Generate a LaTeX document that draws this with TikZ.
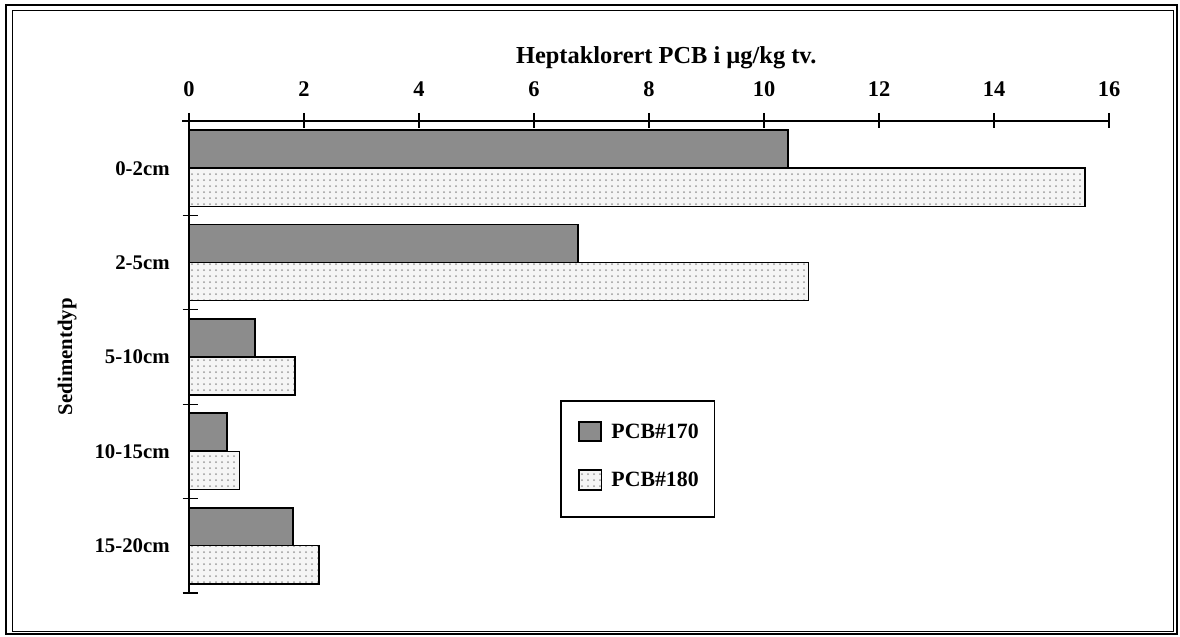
\documentclass[tikz,border=0pt]{standalone}
\usepackage{fontspec}
\setmainfont{Liberation Serif}
\usetikzlibrary{patterns}
\tikzset{
	lbl/.style={font=\bfseries\fontsize{10.4}{12}\selectfont, inner sep=0pt},
	darkbar/.style={draw=black, line width=0.9pt, fill=black!45},
	lightbar/.style={draw=black, line width=0.7pt, preaction={fill=black!4}, pattern=dots, pattern color=black!40}
}

\begin{document}
\begin{tikzpicture}[x=28.75pt, y=28.75pt]
			%%%%% START %%%%%
			\useasboundingbox (-3.287, 2.104) rectangle (17.235, -8.957);
			
			\draw[line width=1.1pt] (-3.183, 2.017) rectangle (17.183, -8.922);
			\draw[line width=0.5pt] (-3.078, 1.930) rectangle (17.113, -8.870);
			
			\node[lbl, font=\bfseries\fontsize{12.2}{14}\selectfont] (title) at (8.30, 1.10) {Heptaklorert PCB i µg/kg tv.};
			
			\draw[line width=0.75pt] (-0.12, 0) -- (16, 0);
			\draw[line width=0.75pt] (0, 0.14) -- (0, -8.209);
			
			\draw[line width=0.6pt] (2, 0.14) -- (2, -0.12);
			\draw[line width=0.6pt] (4, 0.14) -- (4, -0.12);
			\draw[line width=0.6pt] (6, 0.14) -- (6, -0.12);
			\draw[line width=0.6pt] (8, 0.14) -- (8, -0.12);
			\draw[line width=0.6pt] (10, 0.14) -- (10, -0.12);
			\draw[line width=0.6pt] (12, 0.14) -- (12, -0.12);
			\draw[line width=0.6pt] (14, 0.14) -- (14, -0.12);
			\draw[line width=0.6pt] (16, 0.14) -- (16, -0.12);
			
			\node[lbl, font=\bfseries\fontsize{11.2}{13}\selectfont] (t0) at (0, 0.557) {0};
			\node[lbl, font=\bfseries\fontsize{11.2}{13}\selectfont] (t2) at (2, 0.557) {2};
			\node[lbl, font=\bfseries\fontsize{11.2}{13}\selectfont] (t4) at (4, 0.557) {4};
			\node[lbl, font=\bfseries\fontsize{11.2}{13}\selectfont] (t6) at (6, 0.557) {6};
			\node[lbl, font=\bfseries\fontsize{11.2}{13}\selectfont] (t8) at (8, 0.557) {8};
			\node[lbl, font=\bfseries\fontsize{11.2}{13}\selectfont] (t10) at (10, 0.557) {10};
			\node[lbl, font=\bfseries\fontsize{11.2}{13}\selectfont] (t12) at (12, 0.557) {12};
			\node[lbl, font=\bfseries\fontsize{11.2}{13}\selectfont] (t14) at (14, 0.557) {14};
			\node[lbl, font=\bfseries\fontsize{11.2}{13}\selectfont] (t16) at (16, 0.557) {16};
			
			\draw[line width=0.6pt] (-0.11, -1.642) -- (0.15, -1.642);
			\draw[line width=0.6pt] (-0.11, -3.283) -- (0.15, -3.283);
			\draw[line width=0.6pt] (-0.11, -4.925) -- (0.15, -4.925);
			\draw[line width=0.6pt] (-0.11, -6.567) -- (0.15, -6.567);
			\draw[line width=0.6pt] (-0.11, -8.209) -- (0.15, -8.209);
			
			\draw[darkbar] (0, -0.157) rectangle (10.42, -0.821);
			\draw[lightbar] (0, -0.821) rectangle (15.58, -1.485);
			
			\draw[darkbar] (0, -1.799) rectangle (6.77, -2.463);
			\draw[lightbar] (0, -2.463) rectangle (10.77, -3.127);
			
			\draw[darkbar] (0, -3.440) rectangle (1.15, -4.104);
			\draw[lightbar] (0, -4.104) rectangle (1.84, -4.768);
			
			\draw[darkbar] (0, -5.082) rectangle (0.66, -5.746);
			\draw[lightbar] (0, -5.746) rectangle (0.88, -6.410);
			
			\draw[darkbar] (0, -6.724) rectangle (1.81, -7.388);
			\draw[lightbar] (0, -7.388) rectangle (2.26, -8.052);
			
			\node[lbl, anchor=east] (d02) at (-0.33, -0.821) {0-2cm};
			\node[lbl, anchor=east] (d25) at (-0.33, -2.463) {2-5cm};
			\node[lbl, anchor=east] (d510) at (-0.33, -4.104) {5-10cm};
			\node[lbl, anchor=east] (d1015) at (-0.33, -5.746) {10-15cm};
			\node[lbl, anchor=east] (d1520) at (-0.33, -7.388) {15-20cm};
			
			\node[lbl, rotate=90] (ytitle) at (-2.12, -4.10) {Sedimentdyp};
			
			\draw[line width=0.8pt] (6.47, -4.87) rectangle (9.14, -6.89);
			\draw[darkbar] (6.78, -5.23) rectangle (7.17, -5.57);
			\draw[lightbar] (6.78, -6.07) rectangle (7.17, -6.42);
			\node[lbl, anchor=west, font=\bfseries\fontsize{10.9}{13}\selectfont] (k170) at (7.34, -5.39) {PCB\#170};
			\node[lbl, anchor=west, font=\bfseries\fontsize{10.9}{13}\selectfont] (k180) at (7.34, -6.24) {PCB\#180};
			
			%%%%% END %%%%%
		\end{tikzpicture}
\end{document}
